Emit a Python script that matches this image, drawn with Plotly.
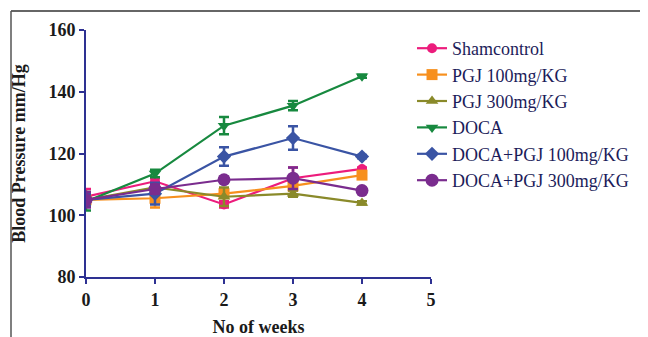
import plotly.graph_objects as go

weeks = [0, 1, 2, 3, 4]
series_names = ["Shamcontrol", "PGJ 100mg/KG", "PGJ 300mg/KG", "DOCA",
                "DOCA+PGJ 100mg/KG", "DOCA+PGJ 300mg/KG"]
sham = [106, 111, 103.5, 112, 115]
pgj100 = [105, 105.5, 107, 109.5, 113]
pgj300 = [105, 109, 106, 107, 104]
doca = [104.5, 113.5, 129, 135.5, 145]
doca_pgj100 = [105, 107, 119, 125, 119]
doca_pgj300 = [105, 108.5, 111.5, 112, 108]

sham_err = [2.5, 1.0, 1.0, 3.5, 0.5]
pgj100_err = [1.5, 3.0, 1.0, 1.5, 1.0]
pgj300_err = [1.5, 1.0, 3.0, 1.0, 0.5]
doca_err = [3.0, 1.2, 2.8, 1.5, 0.5]
doca_pgj100_err = [2.0, 3.5, 3.0, 3.8, 0.5]
doca_pgj300_err = [2.5, 1.5, 1.0, 3.5, 0.5]

x_ticks = [0, 1, 2, 3, 4, 5]
y_ticks = [80, 100, 120, 140, 160]

colors = ["#ec1c7c", "#f7901e", "#8a8a2a", "#17893f", "#3a54a4", "#7a2c8e"]
symbols = ["circle", "square", "triangle-up", "triangle-down", "diamond", "circle"]
sizes = [10, 11, 11, 11, 11, 13]

values = [sham, pgj100, pgj300, doca, doca_pgj100, doca_pgj300]
errors = [sham_err, pgj100_err, pgj300_err, doca_err, doca_pgj100_err, doca_pgj300_err]

fig = go.Figure()
for i, name in enumerate(series_names):
    fig.add_trace(go.Scatter(
        x=weeks, y=values[i], name=name, mode="lines+markers",
        legendgroup=name,
        line=dict(color=colors[i], width=2.2),
        marker=dict(symbol=symbols[i], size=sizes[i], color=colors[i]),
        error_y=dict(type="data", array=errors[i], visible=True,
                     color=colors[i], thickness=2.5, width=5),
    ))

axis_col = "#2e3192"
tick_font = dict(family="Liberation Serif", size=18, color="#1a1a1a")

fig.update_layout(
    width=640, height=329,
    margin=dict(l=78, r=217, t=22, b=60),
    paper_bgcolor="white", plot_bgcolor="white",
    showlegend=True,
    legend=dict(x=0.945, xanchor="left", y=1.0, yanchor="top",
                font=dict(family="Liberation Serif", size=18, color="#1c1c5a"),
                tracegroupgap=0, bgcolor="rgba(0,0,0,0)"),
    xaxis=dict(range=[0, 5], tickvals=x_ticks,
               ticktext=[f"<b>{v}</b>" for v in x_ticks],
               showgrid=False, zeroline=False, showline=True, automargin=False,
               linecolor=axis_col, linewidth=2, ticks="outside",
               tickcolor=axis_col, tickwidth=2, ticklen=5,
               tickfont=tick_font,
               title=dict(text="<b>No of weeks</b>", standoff=24,
                          font=dict(family="Liberation Serif", size=18, color="#1a1a1a"))),
    yaxis=dict(range=[80, 160], tickvals=y_ticks,
               ticktext=[f"<b>{v}</b>" for v in y_ticks],
               showgrid=False, zeroline=False, showline=True, automargin=False,
               linecolor=axis_col, linewidth=2, ticks="outside",
               tickcolor=axis_col, tickwidth=2, ticklen=5,
               tickfont=tick_font,
               title=dict(text="<b>Blood Pressure mm/Hg</b>", standoff=18,
                          font=dict(family="Liberation Serif", size=18, color="#1a1a1a"))),
)

# frame lines (top and left border of the image)
fig.add_shape(type="line", xref="paper", yref="paper",
              x0=(11 - 86) / 345, x1=(646 - 86) / 345,
              y0=1 + 19 / 247, y1=1 + 19 / 247,
              line=dict(color="#333333", width=1.5))
fig.add_shape(type="line", xref="paper", yref="paper",
              x0=(11 - 86) / 345, x1=(11 - 86) / 345,
              y0=1 + 19 / 247, y1=1 - 310 / 247,
              line=dict(color="#555555", width=1.5))

fig.write_html("out.html")
